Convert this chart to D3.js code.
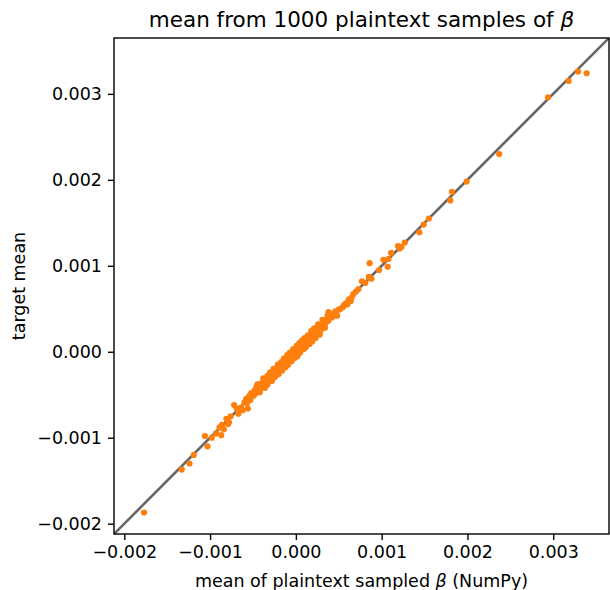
<!DOCTYPE html>
<html>
<head>
<meta charset="utf-8">
<script src="https://cdn.jsdelivr.net/npm/d3@7"></script>
<style>
  body { margin: 0; background: #fff; }
  svg { font-family: "DejaVu Sans", sans-serif; }
</style>
</head>
<body>
<div id="chart"></div>
<script>
// chart data

const title = "mean from 1000 plaintext samples of ";
const xLabel = "mean of plaintext sampled ";
const yLabel = "target mean";

const tickValues = [-0.002, -0.001, 0.000, 0.001, 0.002, 0.003];
const axisLimits = [-0.00212, 0.00365];

// mean of plaintext sampled beta (x)
const plaintextMeans = [
  0.00329, 0.00339, 0.00318, 0.00294, 0.00237, 0.00199, 0.00182, 0.00180, 0.00155, 0.00149,
  0.00144, 0.00127, 0.00123, 0.00119, 0.00121, 0.00111, 0.00108, 0.00102, 0.00107, 0.00086,
  0.00097, 0.00085, 0.00088, 0.00077, 0.00081, 0.00073, 0.00070, 0.00067, 0.00065, 0.00062,
  0.00064, 0.00058, 0.00056, 0.00060, 0.00055, 0.00048, 0.00038, 0.00052, 0.00050, 0.00046,
  0.00044, 0.00042, 0.00040, 0.00038, 0.00036, 0.00035, 0.00033, 0.00032, 0.00031, 0.00030,
  0.00028, 0.00027, 0.00026, 0.00025, 0.00024, 0.00023, 0.00022, 0.00021, 0.00020, 0.00019,
  0.00018, 0.00017, 0.00016, 0.00015, 0.00014, 0.00013, 0.00012, 0.00011, 0.00010, 0.00009,
  0.00008, 0.00007, 0.00006, 0.00005, 0.00004, 0.00003, 0.00002, 0.00001, 0.00000, -0.00001,
  -0.00002, -0.00003, -0.00004, -0.00005, -0.00006, -0.00007, -0.00008, -0.00009, -0.00010, -0.00012,
  -0.00013, -0.00015, -0.00016, -0.00018, -0.00019, -0.00020, -0.00022, -0.00023, -0.00025, -0.00026,
  -0.00028, -0.00029, -0.00031, -0.00032, -0.00034, -0.00035, -0.00037, -0.00038, -0.00040, -0.00041,
  -0.00043, -0.00044, -0.00046, -0.00047, -0.00049, -0.00051, -0.00053, -0.00055, -0.00057, 0.00002,
  -0.00003, 0.00006, 0.00009, -0.00006, 0.00011, 0.00013, 0.00007, -0.00002, 0.00015, 0.00018,
  0.00023, -0.00011, -0.00015, 0.00004, 0.00026, -0.00018, -0.00021, 0.00020, -0.00008, -0.00177,
  -0.00133, -0.00124, -0.00119, -0.00106, -0.00103, -0.00098, -0.00093, -0.00089, -0.00086, -0.00084,
  -0.00087, -0.00081, -0.00078, -0.00076, -0.00079, -0.00072, -0.00069, -0.00066, -0.00067, -0.00056,
  -0.00062, -0.00064, -0.00060, -0.00058, -0.00054, -0.00052, -0.00048, -0.00050, -0.00046, -0.00043,
  -0.00041, -0.00035, -0.00033, -0.00031, -0.00027, -0.00023, -0.00019, -0.00015, -0.00011, -0.00004,
  0.00024, 0.00029, -0.00024, -0.00027, 0.00012, 0.00016,
  -0.00045, -0.00042, -0.00038, -0.00036, -0.00033, -0.00030, -0.00028, -0.00026, -0.00024, -0.00021,
  -0.00020, -0.00017, -0.00016, -0.00014, -0.00012, -0.00010, -0.00009, -0.00007, -0.00005, -0.00003,
  -0.00001, 0.00001, 0.00002, 0.00004, 0.00005, 0.00007, 0.00009, 0.00010, 0.00012, 0.00014,
  0.00016, 0.00018, 0.00019, 0.00021, 0.00023, 0.00026, 0.00028, 0.00031, 0.00034, 0.00037
];

// target mean (y)
const targetMeans = [
  0.00326, 0.00324, 0.00315, 0.00296, 0.00230, 0.00198, 0.00186, 0.00176, 0.00155, 0.00148,
  0.00139, 0.00127, 0.00122, 0.00123, 0.00120, 0.00115, 0.00108, 0.00107, 0.00099, 0.00103,
  0.00095, 0.00087, 0.00085, 0.00082, 0.00080, 0.00073, 0.00070, 0.00067, 0.00063, 0.00061,
  0.00059, 0.00056, 0.00054, 0.00055, 0.00052, 0.00042, 0.00046, 0.00050, 0.00049, 0.00047,
  0.00044, 0.00040, 0.00041, 0.00036, 0.00038, 0.00034, 0.00035, 0.00030, 0.00033, 0.00029,
  0.00026, 0.00030, 0.00024, 0.00027, 0.00022, 0.00025, 0.00020, 0.00024, 0.00018, 0.00021,
  0.00016, 0.00019, 0.00014, 0.00017, 0.00012, 0.00015, 0.00010, 0.00013, 0.00008, 0.00011,
  0.00006, 0.00009, 0.00004, 0.00007, 0.00002, 0.00005, 0.00000, 0.00003, -0.00002, 0.00001,
  -0.00004, -0.00001, -0.00006, -0.00003, -0.00008, -0.00005, -0.00010, -0.00007, -0.00012, -0.00010,
  -0.00015, -0.00013, -0.00018, -0.00016, -0.00021, -0.00019, -0.00024, -0.00021, -0.00027, -0.00024,
  -0.00030, -0.00027, -0.00033, -0.00030, -0.00036, -0.00033, -0.00039, -0.00036, -0.00042, -0.00039,
  -0.00045, -0.00042, -0.00048, -0.00045, -0.00051, -0.00049, -0.00056, -0.00053, -0.00060, -0.00003,
  0.00002, 0.00003, 0.00012, -0.00010, 0.00005, 0.00017, 0.00008, -0.00006, 0.00015, 0.00021,
  0.00019, -0.00008, -0.00017, 0.00008, 0.00030, -0.00014, -0.00022, 0.00017, -0.00011, -0.00187,
  -0.00137, -0.00130, -0.00120, -0.00098, -0.00110, -0.00100, -0.00095, -0.00088, -0.00085, -0.00090,
  -0.00097, -0.00078, -0.00082, -0.00075, -0.00084, -0.00062, -0.00066, -0.00068, -0.00072, -0.00066,
  -0.00068, -0.00065, -0.00059, -0.00055, -0.00051, -0.00048, -0.00045, -0.00049, -0.00041, -0.00039,
  -0.00037, -0.00032, -0.00028, -0.00030, -0.00026, -0.00022, -0.00018, -0.00016, -0.00014, -0.00001,
  0.00028, 0.00025, -0.00020, -0.00031, 0.00014, 0.00012,
  -0.00038, -0.00047, -0.00031, -0.00042, -0.00038, -0.00024, -0.00034, -0.00020, -0.00029, -0.00015,
  -0.00026, -0.00012, -0.00022, -0.00008, -0.00018, -0.00004, -0.00015, -0.00001, -0.00011, 0.00003,
  -0.00007, 0.00007, -0.00005, 0.00010, -0.00001, 0.00013, 0.00003, 0.00016, 0.00006, 0.00019,
  0.00009, 0.00024, 0.00012, 0.00027, 0.00016, 0.00032, 0.00020, 0.00037, 0.00028, 0.00042
];

const points = plaintextMeans.map((v, i) => ({ x: v, y: targetMeans[i] }));

const W = 610, H = 590;
const margin = { top: 38, right: 1, bottom: 56, left: 114 };
const width = W - margin.left - margin.right;
const height = H - margin.top - margin.bottom;

const svg = d3.select("#chart")
  .append("svg")
  .attr("width", W)
  .attr("height", H);

const g = svg.append("g")
  .attr("transform", `translate(${margin.left},${margin.top})`);

const x = d3.scaleLinear().domain(axisLimits).range([0, width]);
const y = d3.scaleLinear().domain(axisLimits).range([height, 0]);

g.append("clipPath").attr("id", "plot-clip")
  .append("rect").attr("width", width).attr("height", height);

const plot = g.append("g").attr("clip-path", "url(#plot-clip)");

// identity line y = x, under the points
plot.append("line")
  .attr("x1", x(axisLimits[0])).attr("y1", y(axisLimits[0]))
  .attr("x2", x(axisLimits[1])).attr("y2", y(axisLimits[1]))
  .attr("stroke", "#000")
  .attr("stroke-opacity", 0.6)
  .attr("stroke-width", 2.6);

plot.selectAll("circle")
  .data(points)
  .enter().append("circle")
  .attr("cx", d => x(d.x))
  .attr("cy", d => y(d.y))
  .attr("r", 3.1)
  .attr("fill", "#ff7f0e");

const fmt = d3.format(".3f");

const xAxis = g.append("g")
  .attr("transform", `translate(0,${height})`)
  .call(d3.axisBottom(x).tickValues(tickValues).tickFormat(fmt).tickSize(6).tickPadding(6));

const yAxis = g.append("g")
  .call(d3.axisLeft(y).tickValues(tickValues).tickFormat(fmt).tickSize(6).tickPadding(6));

[xAxis, yAxis].forEach(a => {
  a.select(".domain").remove();
  a.selectAll(".tick line").attr("stroke", "#000").attr("stroke-width", 1.4);
  a.selectAll(".tick text")
    .attr("fill", "#000")
    .style("font-family", "DejaVu Sans")
    .style("font-size", "17.5px");
});

// frame
g.append("rect")
  .attr("width", width)
  .attr("height", height)
  .attr("fill", "none")
  .attr("stroke", "#000")
  .attr("stroke-width", 1.4);

const t = svg.append("text")
  .attr("x", margin.left + width / 2)
  .attr("y", 27)
  .attr("text-anchor", "middle")
  .style("font-size", "21.5px")
  .text(title);
t.append("tspan").style("font-style", "italic").text("β");

const xl = svg.append("text")
  .attr("x", margin.left + width / 2)
  .attr("y", 587)
  .attr("text-anchor", "middle")
  .style("font-size", "17.5px")
  .text(xLabel);
xl.append("tspan").style("font-style", "italic").text("β");
xl.append("tspan").text(" (NumPy)");

svg.append("text")
  .attr("transform", `translate(25,${margin.top + height / 2}) rotate(-90)`)
  .attr("text-anchor", "middle")
  .style("font-size", "17.5px")
  .text(yLabel);
</script>
</body>
</html>
